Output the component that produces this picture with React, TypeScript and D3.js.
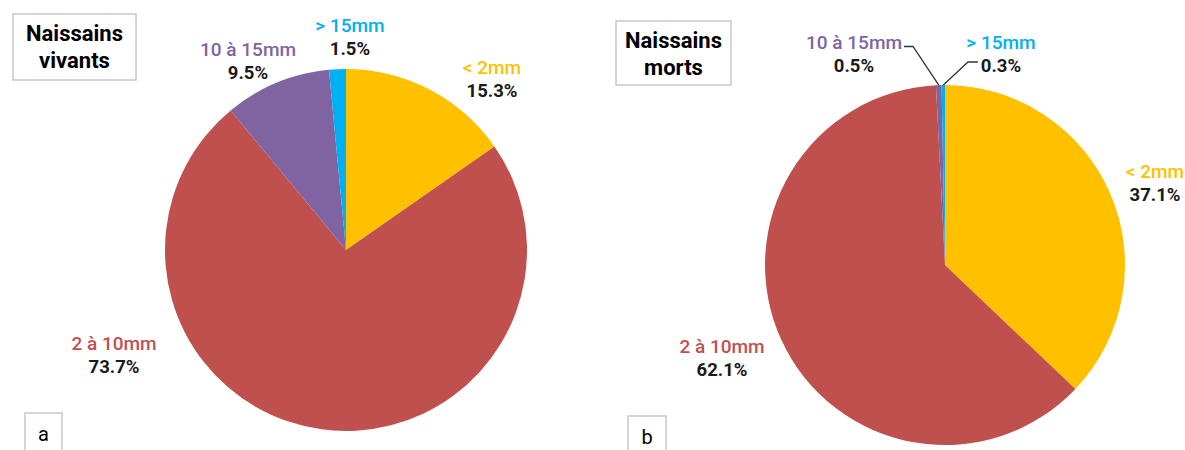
import React from "react";
import * as d3 from "d3";

const categories = ["< 2mm", "2 à 10mm", "10 à 15mm", "> 15mm"];
const colors = ["#FFC000", "#C0504D", "#8064A2", "#00B0F0"];
const vivants = [15.3, 73.7, 9.5, 1.5];
const morts = [37.1, 62.1, 0.5, 0.3];
const titles = [["Naissains", "vivants"], ["Naissains", "morts"]];
const panelLetters = ["a", "b"];

// layout (not data)
const panels = [
  {
    values: vivants,
    cx: 346,
    cy: 250,
    r: 181,
    titleBox: { x: 13, y: 14, w: 123, h: 66 },
    letterBox: { x: 25, y: 413, w: 37, h: 45 },
    labels: [
      { x: 492, y: 67 },
      { x: 114, y: 343 },
      { x: 248, y: 49 },
      { x: 350, y: 25 },
    ],
    leaders: [null, null, null, null] as any[],
  },
  {
    values: morts,
    cx: 945,
    cy: 265,
    r: 180,
    titleBox: { x: 616, y: 21, w: 115, h: 64 },
    letterBox: { x: 628, y: 416, w: 38, h: 45 },
    labels: [
      { x: 1155, y: 171 },
      { x: 722, y: 346 },
      { x: 854, y: 42 },
      { x: 1001, y: 42 },
    ],
    leaders: [
      null,
      null,
      [[904, 46.5], [913, 46.5]],
      [[978, 62], [968, 62]],
    ] as any[],
  },
];

function Pie({ p }: { p: (typeof panels)[number] }) {
  const pie = d3.pie<number>().sort(null).value((d) => d);
  const arcs = pie(p.values);
  const arc = d3.arc<d3.PieArcDatum<number>>().innerRadius(0).outerRadius(p.r);
  const outer = d3.arc<d3.PieArcDatum<number>>().innerRadius(p.r).outerRadius(p.r);
  const tb = p.titleBox;
  const lb = p.letterBox;
  const pi = panels.indexOf(p);
  return (
    <g>
      <g transform={`translate(${p.cx},${p.cy})`}>
        {arcs.map((a, i) => (
          <path key={i} d={arc(a) || ""} fill={colors[i]} />
        ))}
      </g>
      {p.leaders.map((ld: any, i: number) => {
        if (!ld) return null;
        const c = outer.centroid(arcs[i]);
        const pts = [...ld, [p.cx + c[0], p.cy + c[1]]];
        return (
          <path
            key={"l" + i}
            d={d3.line()(pts as [number, number][]) || ""}
            fill="none"
            stroke="#333"
            strokeWidth={1.3}
          />
        );
      })}
      {p.labels.map((l, i) => (
        <g key={"t" + i} fontFamily="Roboto, sans-serif" textAnchor="middle">
          <text x={l.x} y={l.y} dy="0.35em" fontSize={19} fontWeight={500} fill={colors[i]}>
            {categories[i]}
          </text>
          <text x={l.x} y={l.y + 24} dy="0.35em" fontSize={18.5} fontWeight={700} fill="#1a1a1a">
            {p.values[i].toFixed(1)}%
          </text>
        </g>
      ))}
      <rect x={tb.x} y={tb.y} width={tb.w} height={tb.h} fill="#fff" stroke="#c8c8c8" strokeWidth={1.5} />
      {titles[pi].map((t, j) => (
        <text
          key={"tt" + j}
          x={tb.x + tb.w / 2}
          y={tb.y + 19 + j * 27}
          dy="0.35em"
          textAnchor="middle"
          fontFamily="Roboto, sans-serif"
          fontWeight={700}
          fontSize={22}
          fill="#000"
        >
          {t}
        </text>
      ))}
      <rect x={lb.x} y={lb.y} width={lb.w} height={lb.h} fill="#fff" stroke="#c8c8c8" strokeWidth={1.5} />
      <text
        x={lb.x + lb.w / 2}
        y={lb.y + 21}
        dy="0.35em"
        textAnchor="middle"
        fontFamily="Roboto, sans-serif"
        fontSize={20}
        fill="#000"
      >
        {panelLetters[pi]}
      </text>
    </g>
  );
}

export default function App() {
  return (
    <svg
      width={1185}
      height={450}
      style={{ position: "absolute", left: 0, top: 0, background: "#fff" }}
    >
      {panels.map((p, i) => (
        <Pie key={i} p={p} />
      ))}
    </svg>
  );
}
